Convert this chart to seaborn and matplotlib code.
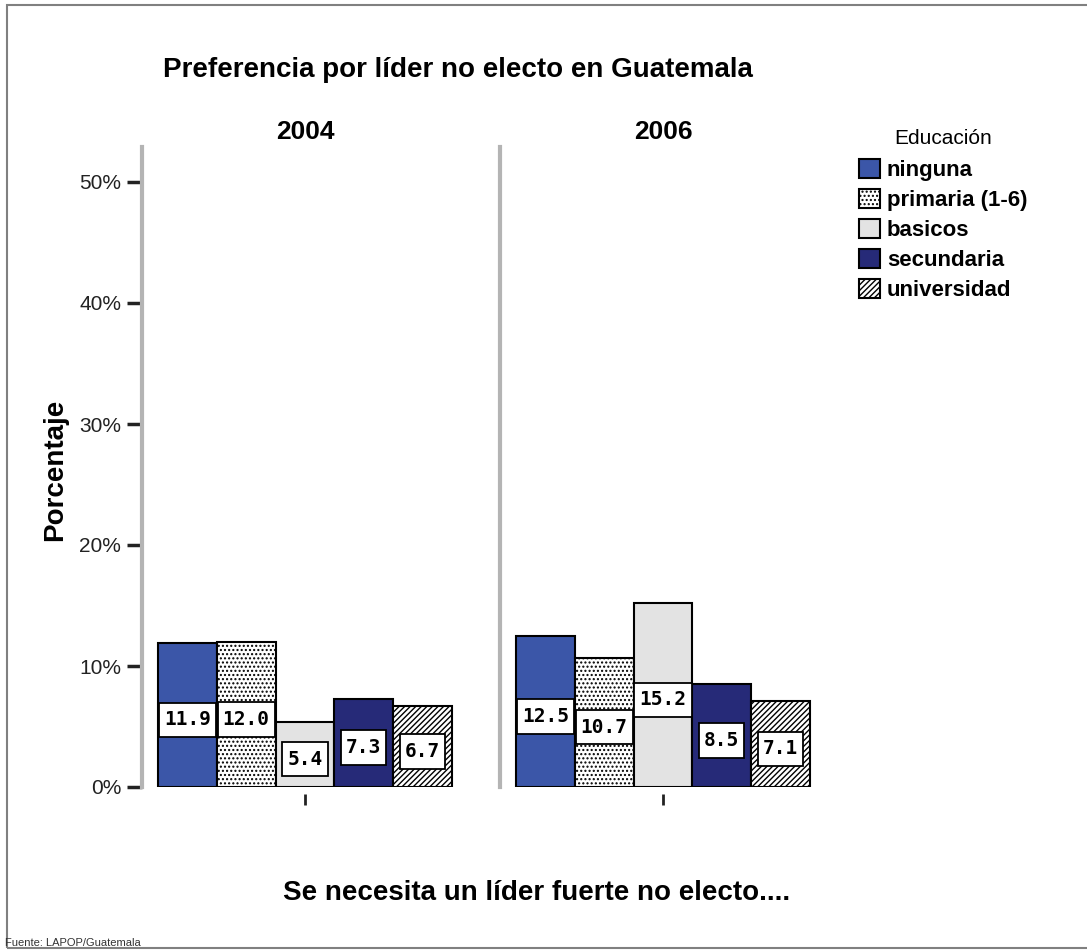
import pandas as pd
import seaborn as sns
import matplotlib.pyplot as plt
from matplotlib.patches import Patch, Rectangle
from matplotlib.path import Path

years = ["2004", "2006"]
education = ["ninguna", "primaria (1-6)", "basicos", "secundaria", "universidad"]
pct_2004 = [11.9, 12.0, 5.4, 7.3, 6.7]
pct_2006 = [12.5, 10.7, 15.2, 8.5, 7.1]
colors = ["#3b56a8", "#ffffff", "#e3e3e3", "#262a78", "#ffffff"]
hatches = ["", "....", "", "", "//////"]
y_ticks = [0, 10, 20, 30, 40, 50]

df = pd.DataFrame({
    "year": [years[0]] * 5 + [years[1]] * 5,
    "educacion": education * 2,
    "pct": pct_2004 + pct_2006,
})

sns.set_style("white")
plt.rcParams["font.family"] = ["Liberation Sans", "DejaVu Sans"]
plt.rcParams["text.color"] = "black"
plt.rcParams["hatch.linewidth"] = 1.0


def label_box(x0, y0, width, height, mutation_size):
    # square box, more padding above/below than at the sides
    px, py = 0.26 * mutation_size, 0.40 * mutation_size
    x0, y0, x1, y1 = x0 - px, y0 - py, x0 + width + px, y0 + height + py
    return Path([(x0, y0), (x1, y0), (x1, y1), (x0, y1), (x0, y0)], closed=True)


W, H = 1087, 951
fig = plt.figure(figsize=(W / 100, H / 100), dpi=100)

# frame around the picture
fig.patches.append(Rectangle((7 / W, 3 / H), 1.2, 1 - 8 / H, transform=fig.transFigure,
                             fill=False, edgecolor="#808080", linewidth=1.5))

ax_pos = [(142, 468), (500, 826)]
bot, top = 787, 147
px_per_pct = 12.1
y_top = (bot - top) / px_per_pct
gap = 16
for i, yr in enumerate(years):
    x0, x1 = ax_pos[i]
    ax = fig.add_axes([x0 / W, (H - bot) / H, (x1 - x0) / W, (bot - top) / H])
    sub = df[df["year"] == yr]
    sns.barplot(data=sub, x="year", y="pct", hue="educacion", hue_order=education,
                palette=colors, saturation=1, width=0.8, edgecolor="black",
                linewidth=1.5, legend=False, ax=ax)
    half = 0.4 + gap / (292 / 0.8)
    ax.set_xlim(-half, half)
    ax.set_ylim(0, y_top)
    for p, h in zip(ax.patches, hatches):
        p.set_hatch(h)
    for p in ax.patches:
        v = p.get_height()
        ax.annotate(f"{v:.1f}", (p.get_x() + p.get_width() / 2, v / 2),
                    xytext=(0, -3.5), textcoords="offset points", ha="center", va="center",
                    fontsize=14, fontweight="bold", family="DejaVu Sans Mono",
                    bbox=dict(boxstyle=label_box, fc="white", ec="black", lw=1.3))
    ax.set_title(yr, fontsize=19, fontweight="bold", pad=6)
    ax.set_xlabel("")
    ax.set_ylabel("")
    ax.set_xticks([0])
    ax.set_xticklabels([""])
    for s in ["top", "right"]:
        ax.spines[s].set_visible(False)
    ax.spines["bottom"].set_position(("outward", 5))
    ax.spines["bottom"].set_visible(False)
    ax.spines["left"].set_color("#b4b4b4")
    ax.spines["left"].set_linewidth(3)
    ax.tick_params(axis="x", length=8, width=2, color="#222222", bottom=True)
    if i == 0:
        ax.set_yticks(y_ticks)
        ax.set_yticklabels([f"{t}%" for t in y_ticks], fontsize=15, color="#222222")
        ax.tick_params(axis="y", length=11, width=2.5, color="#222222", left=True, pad=4)
    else:
        ax.set_yticks([])

fig.text(458 / W, 1 - 70 / H, "Preferencia por líder no electo en Guatemala",
         ha="center", va="center", fontsize=20, fontweight="bold")
fig.text(55 / W, 1 - 470 / H, "Porcentaje", rotation=90, ha="center", va="center",
         fontsize=20, fontweight="bold")
fig.text(537 / W, 1 - 893 / H, "Se necesita un líder fuerte no electo....",
         ha="center", va="center", fontsize=20, fontweight="bold")
fig.text(5 / W, 1 - 943 / H, "Fuente: LAPOP/Guatemala", ha="left", va="center",
         fontsize=8, color="#333333")

handles = [Patch(facecolor=c, edgecolor="black", hatch=h, linewidth=1.5)
           for c, h in zip(colors, hatches)]
leg = fig.legend(handles, education, loc="upper left", bbox_to_anchor=(859 / W, 1 - 129 / H),
                 frameon=False, title="Educación", title_fontsize=15, handlelength=0.95,
                 handleheight=0.95, handletextpad=0.3, labelspacing=0.35, borderpad=0,
                 borderaxespad=0, prop={"size": 16, "weight": "bold"})
leg._legend_box.sep = 8

fig.savefig("out.png", dpi=100)
